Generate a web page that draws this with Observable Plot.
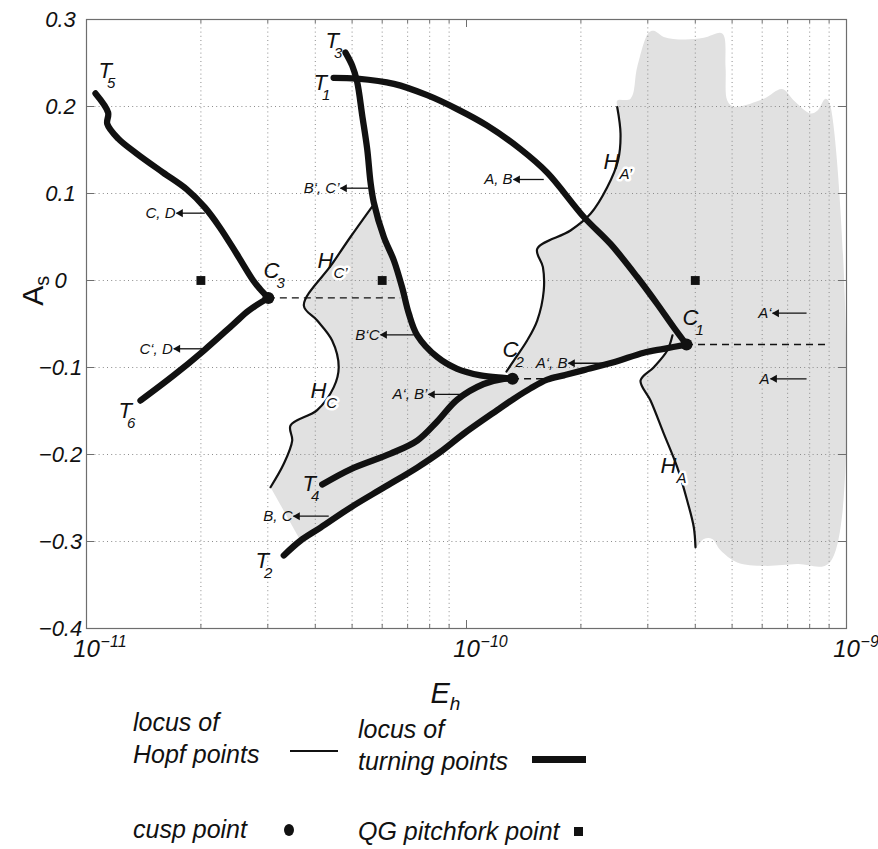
<!DOCTYPE html>
<html><head><meta charset="utf-8">
<script src="https://cdn.jsdelivr.net/npm/d3@7"></script>
<script src="https://cdn.jsdelivr.net/npm/@observablehq/plot@0.6"></script>
<style>
body{margin:0;background:#fff;font-family:"Liberation Sans",Arial,sans-serif;}
#wrap{position:relative;width:878px;height:849px;overflow:hidden;}
#wrap svg{display:block;}
.lg{position:absolute;font-style:italic;font-size:25px;color:#111;line-height:25px;white-space:nowrap;}
.ln{position:absolute;background:#111;}
</style></head><body><div id="wrap"></div>
<script>
// ---- data (E_h, A_s) ----
const t5ToC3 = [[1.056e-11,0.215],[1.14e-11,0.193],[1.134e-11,0.180],[1.212e-11,0.163],[1.354e-11,0.146],[1.591e-11,0.124],[1.833e-11,0.105],[2.048e-11,0.084],[2.243e-11,0.061],[2.481e-11,0.031],[2.746e-11,0.0],[2.858e-11,-0.0095],[3.01e-11,-0.02]];
const c3ToT6 = [[3.01e-11,-0.02],[2.674e-11,-0.0345],[2.441e-11,-0.0498],[2.036e-11,-0.0805],[1.697e-11,-0.109],[1.387e-11,-0.138]];
const t3ToC2 = [[4.804e-11,0.262],[5.003e-11,0.247],[5.157e-11,0.228],[5.315e-11,0.190],[5.479e-11,0.151],[5.59e-11,0.113],[5.70e-11,0.090],[6.06e-11,0.050],[6.44e-11,0.023],[6.77e-11,-0.008],[7.05e-11,-0.038],[7.42e-11,-0.063],[8.375e-11,-0.088],[9.45e-11,-0.1015],[1.089e-10,-0.109],[1.254e-10,-0.112],[1.322e-10,-0.113]];
const t1ToC1 = [[4.47e-11,0.233],[5.157e-11,0.232],[6.44e-11,0.226],[7.88e-11,0.213],[9.45e-11,0.197],[1.134e-10,0.178],[1.387e-10,0.151],[1.631e-10,0.124],[2.036e-10,0.073],[2.393e-10,0.042],[2.813e-10,0.004],[3.176e-10,-0.027],[3.512e-10,-0.054],[3.793e-10,-0.0736]];
const c1ToT2 = [[3.793e-10,-0.0736],[3.305e-10,-0.0785],[2.928e-10,-0.083],[2.441e-10,-0.094],[2.036e-10,-0.103],[1.804e-10,-0.109],[1.631e-10,-0.114],[1.474e-10,-0.124],[1.332e-10,-0.136],[1.205e-10,-0.149],[9.84e-11,-0.176],[8.54e-11,-0.197],[7.42e-11,-0.215],[6.06e-11,-0.238],[4.95e-11,-0.261],[4.13e-11,-0.284],[3.658e-11,-0.299],[3.305e-11,-0.316]];
const t4ToC2 = [[4.172e-11,-0.2345],[4.95e-11,-0.217],[6.31e-11,-0.199],[7.42e-11,-0.184],[8.375e-11,-0.162],[9.45e-11,-0.137],[1.11e-10,-0.119],[1.254e-10,-0.113],[1.322e-10,-0.113]];
const hopfC = [[5.646e-11,0.085],[4.95e-11,0.050],[4.43e-11,0.019],[3.732e-11,-0.0287],[4.046e-11,-0.046],[4.43e-11,-0.069],[4.61e-11,-0.0997],[4.475e-11,-0.1226],[4.046e-11,-0.149],[3.442e-11,-0.1667],[3.478e-11,-0.184],[3.305e-11,-0.2107],[3.05e-11,-0.2376]];
const hopfAprime = [[1.274e-10,-0.1046],[1.332e-10,-0.092],[1.444e-10,-0.069],[1.535e-10,-0.046],[1.597e-10,-0.0115],[1.589e-10,0.0153],[1.535e-10,0.0364],[1.878e-10,0.0575],[2.12e-10,0.0767],[2.346e-10,0.1072],[2.505e-10,0.138],[2.543e-10,0.1686],[2.493e-10,0.1992]];
const hopfA = [[3.484e-10,-0.063],[3.375e-10,-0.0805],[3.112e-10,-0.0997],[2.871e-10,-0.115],[3.05e-10,-0.138],[3.305e-10,-0.176],[3.585e-10,-0.2146],[3.808e-10,-0.2529],[3.964e-10,-0.2836],[4.005e-10,-0.3066]];
const shadeBottom = [[4.212e-10,-0.297],[4.433e-10,-0.297],[4.66e-10,-0.310],[5.157e-10,-0.324],[6.06e-10,-0.328],[7.42e-10,-0.326],[9.04e-10,-0.324]];
const shadeTop = [[9.04e-10,0.203],[8.807e-10,0.209],[8.375e-10,0.195],[8.04e-10,0.192],[7.265e-10,0.207],[6.77e-10,0.220],[6.06e-10,0.209],[5.05e-10,0.200],[4.855e-10,0.207],[4.805e-10,0.245],[4.71e-10,0.284],[4.212e-10,0.279],[3.732e-10,0.277],[3.305e-10,0.280],[3.112e-10,0.287],[3.018e-10,0.285],[2.813e-10,0.245],[2.702e-10,0.209],[2.493e-10,0.207]];

const cuspE = [3.793e-10, 1.322e-10, 3.01e-11];
const cuspA = [-0.0736, -0.113, -0.02];
const qgE = [2e-11, 6e-11, 4e-10];
const qgA = [0, 0, 0];

const dashStart = [3.01e-11, 1.322e-10, 3.793e-10];
const dashEnd = [6.71e-11, 1.7e-10, 9.04e-10];
const dashLevel = [-0.02, -0.113, -0.0736];

const arrowLabels = ["C, D", "C‘, D", "B‘, C’", "B‘C", "A‘, B’", "B, C", "A, B", "A‘, B", "A‘", "A"];
const arrowTail = [2.048e-11, 2.036e-11, 5.53e-11, 7.265e-11, 9.74e-11, 4.34e-11, 1.597e-10, 2.346e-10, 7.85e-10, 7.85e-10];
const arrowHead = [1.725e-11, 1.697e-11, 4.66e-11, 5.94e-11, 7.94e-11, 3.505e-11, 1.33e-10, 1.855e-10, 6.39e-10, 6.31e-10];
const arrowLevel = [0.0774, -0.0785, 0.1061, -0.0624, -0.131, -0.2709, 0.1161, -0.0951, -0.0376, -0.113];

const labelMain = ["T","T","T","C","H","T","H","T","T","C","C","H","H"];
const labelSub  = ["5","3","1","3","C’","6","C","4","2","2","1","A’","A"];
const labelE    = [1.075e-11,4.256e-11,3.956e-11,2.923e-11,4.054e-11,1.214e-11,3.885e-11,3.703e-11,2.784e-11,1.244e-10,3.703e-10,2.294e-10,3.24e-10];
const labelA    = [0.2322,0.2667,0.2184,0.0023,0.0149,-0.1586,-0.1356,-0.2414,-0.3299,-0.0885,-0.0517,0.1287,-0.2218];

const xMajor = [1e-11, 1e-10, 1e-9];
const xMinor = [2e-11,3e-11,4e-11,5e-11,6e-11,7e-11,8e-11,9e-11,2e-10,3e-10,4e-10,5e-10,6e-10,7e-10,8e-10,9e-10];
const yTicks = [-0.4,-0.3,-0.2,-0.1,0,0.1,0.2,0.3];
const xAxisLabelAt = [8.04e-11];
const yAxisLabelAt = [-0.029];

// ---- derived tables ----
const shadePolygon = [
  ...c1ToT2.slice(1, 17).reverse(),
  ...hopfA.slice(1),
  ...shadeBottom,
  ...shadeTop,
  ...hopfAprime.slice().reverse(),
  ...t3ToC2.slice(6).reverse(),
  ...hopfC
];
const cusps = cuspE.map((e, i) => ({e, a: cuspA[i]}));
const qg = qgE.map((e, i) => ({e, a: qgA[i]}));
const dashes = dashStart.map((s, i) => ({x1: s, x2: dashEnd[i], y: dashLevel[i]}));
const arrows = arrowLabels.map((t, i) => ({t, x1: arrowTail[i], x2: arrowHead[i], y: arrowLevel[i]}));
const labels = labelMain.map((m, i) => ({m, s: labelSub[i], x: labelE[i], y: labelA[i]}));

const H = 715, mT = 19, mB = 87;
const yPerPx = 0.7 / (H - mT - mB);
const xPerPx = Math.pow(10, 2 / 760);
const ink = "#111";
const ital = {fontStyle: "italic", fill: ink};

const thick = {stroke: ink, strokeWidth: 6.3, curve: "catmull-rom", strokeLinejoin: "round"};
const thin = {stroke: ink, strokeWidth: 2.2, curve: "catmull-rom"};

const chart = Plot.plot({
  width: 878, height: H,
  marginLeft: 86, marginRight: 32, marginTop: mT, marginBottom: mB,
  x: {type: "log", domain: [1e-11, 1e-9], axis: null},
  y: {domain: [-0.4, 0.3], axis: null},
  style: {fontFamily: "'Liberation Sans', Arial, sans-serif", background: "white", overflow: "visible"},
  marks: [
    Plot.line(shadePolygon, {fill: "#e1e1e1", stroke: "none", curve: "catmull-rom"}),
    Plot.ruleX(xMinor, {stroke: "#8c8c8c", strokeDasharray: "1,3.2", strokeWidth: 1}),
    Plot.ruleY(yTicks.slice(1, -1), {stroke: "#8c8c8c", strokeDasharray: "1,3.2", strokeWidth: 1}),
    Plot.frame({stroke: "#6e6e6e", strokeWidth: 1.2}),
    // inward ticks
    Plot.ruleX(xMajor.concat(xMinor), {x: d => d, y1: -0.4, y2: d => -0.4 + (xMajor.includes(d) ? 8 : 4) * yPerPx, stroke: "#6e6e6e"}),
    Plot.ruleX(xMajor.concat(xMinor), {x: d => d, y1: 0.3, y2: d => 0.3 - (xMajor.includes(d) ? 8 : 4) * yPerPx, stroke: "#6e6e6e"}),
    Plot.ruleY(yTicks, {y: d => d, x1: 1e-11, x2: 1e-11 * Math.pow(xPerPx, 8), stroke: "#6e6e6e"}),
    Plot.ruleY(yTicks, {y: d => d, x1: 1e-9 / Math.pow(xPerPx, 8), x2: 1e-9, stroke: "#6e6e6e"}),
    // Hopf loci
    Plot.line(hopfC, thin),
    Plot.line(hopfAprime, thin),
    Plot.line(hopfA, thin),
    // dashed lines
    Plot.ruleY(dashes, {y: "y", x1: "x1", x2: "x2", stroke: ink, strokeWidth: 1.4, strokeDasharray: "7,5"}),
    // turning point loci
    Plot.line(t5ToC3, thick),
    Plot.line(c3ToT6, thick),
    Plot.line(t3ToC2, thick),
    Plot.line(t1ToC1, thick),
    Plot.line(c1ToT2, thick),
    Plot.line(t4ToC2, thick),
    // arrows
    Plot.link(arrows, {x1: "x1", x2: "x2", y1: "y", y2: "y", stroke: ink, strokeWidth: 1.3}),
    Plot.dot(arrows, {x: "x2", y: "y", symbol: "triangle", rotate: -90, r: 3, fill: ink, dx: 4}),
    Plot.text(arrows, {x: "x2", y: "y", text: "t", textAnchor: "end", dx: -1, fontSize: 15, ...ital}),
    // points
    Plot.dot(cusps, {x: "e", y: "a", r: 6, fill: ink}),
    Plot.dot(qg, {x: "e", y: "a", symbol: "square", r: 5, fill: ink}),
    // curve labels (main letter + subscript, split into a tspan below)
    Plot.text(labels, {x: "x", y: "y", text: d => d.m + "|" + d.s, textAnchor: "start", lineAnchor: "bottom", fontSize: 22, ...ital}),
    // tick labels
    Plot.text(yTicks, {y: d => d, frameAnchor: "left", dx: -26, textAnchor: "middle", text: d => d === 0 ? "0" : (d < 0 ? "\u2212" : "") + Math.abs(d).toFixed(1), fontSize: 22, ...ital}),
    Plot.text(xMajor, {x: d => d, frameAnchor: "bottom", text: d => "10^\u2212" + Math.round(-Math.log10(d)), textAnchor: "start", lineAnchor: "bottom", dx: -13.3, dy: 28, fontSize: 24, ...ital}),
    // axis labels
    Plot.text(xAxisLabelAt, {x: d => d, frameAnchor: "bottom", text: () => "E|h", textAnchor: "start", lineAnchor: "bottom", dy: 74, fontSize: 29, ...ital}),
    Plot.text(yAxisLabelAt, {y: d => d, frameAnchor: "left", text: () => "A|s", rotate: -90, textAnchor: "start", lineAnchor: "bottom", dx: -44, fontSize: 30, fill: ink})
  ]
});

// turn "X|y" into X with a subscript tspan, "10^e" into 10 with a superscript tspan
const NS = "http://www.w3.org/2000/svg";
chart.querySelectorAll("text").forEach(t => {
  const c = t.textContent;
  if (c.includes("|")) {
    const [m, s] = c.split("|");
    t.textContent = m;
    const ts = document.createElementNS(NS, "tspan");
    ts.textContent = s;
    const shift = {T: -5, C: -3}[m] ?? 0;
    ts.setAttribute("dx", shift);
    ts.setAttribute("dy", m === "A" ? 6 : m === "E" ? 7 : 10);
    ts.setAttribute("font-size", m === "A" ? 20 : m === "E" ? 19 : 15);
    if (m === "H") { ts.setAttribute("stroke", "white"); ts.setAttribute("stroke-width", 5); ts.setAttribute("paint-order", "stroke"); ts.setAttribute("stroke-linejoin", "round"); }
    t.appendChild(ts);
  } else if (c.includes("^")) {
    const [m, s] = c.split("^");
    t.textContent = m;
    const ts = document.createElementNS(NS, "tspan");
    ts.textContent = s;
    ts.setAttribute("dx", 0.7);
    ts.setAttribute("dy", -10);
    ts.setAttribute("font-size", 16);
    t.appendChild(ts);
  }
});

const wrap = document.getElementById("wrap");
wrap.appendChild(chart);

// ---- legend (HTML below the SVG) ----
function txt(s, left, baseline) {
  const d = document.createElement("div");
  d.className = "lg"; d.textContent = s;
  d.style.left = left + "px"; d.style.top = (baseline - 21) + "px";
  wrap.appendChild(d);
}
function box(left, top, w, h, round) {
  const d = document.createElement("div");
  d.className = "ln";
  Object.assign(d.style, {left: left + "px", top: top + "px", width: w + "px", height: h + "px", borderRadius: round ? "50%" : "0"});
  wrap.appendChild(d);
}
txt("locus of", 133, 731);
txt("Hopf points", 133, 763);
box(290, 750, 48, 2);
txt("locus of", 358, 738);
txt("turning points", 358, 770);
box(532, 756, 54, 7);
txt("cusp point", 133, 838);
box(284, 824, 10, 12, true);
txt("QG pitchfork point", 358, 840);
box(574, 827, 9, 9);
</script></body></html>
